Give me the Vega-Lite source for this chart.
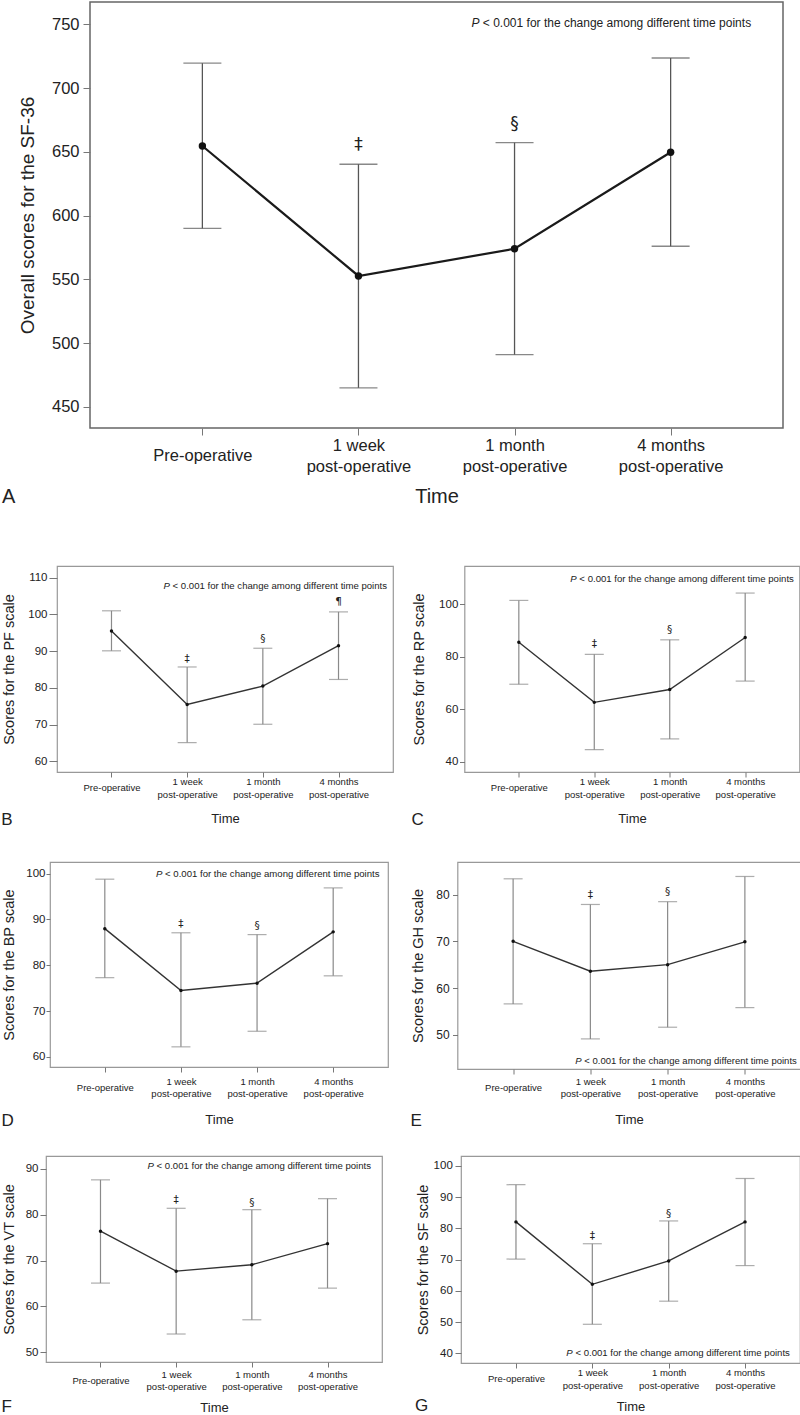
{
"$schema": "https://vega.github.io/schema/vega-lite/v6.json",
"background": "white",
"padding": {"left": 0, "top": 1, "right": 0, "bottom": 0},
"config": {
  "font": "Liberation Sans",
  "axis": {"labelFont": "Liberation Sans", "titleFont": "Liberation Sans", "labelColor": "#222", "titleColor": "#222", "titleFontWeight": "normal", "grid": false, "domain": false, "tickColor": "#777", "labelOverlap": false},
  "title": {"font": "Liberation Sans", "fontWeight": "normal", "color": "#222"},
  "text": {"font": "Liberation Sans", "color": "#222"}
},
"spacing": 57,
"vconcat": [
{
"bounds": "flush",
"spacing": 43,
"hconcat": [
{"width": 1, "height": 1, "view": {"stroke": null}, "data": {"values": [{"s": 0}]}, "mark": {"type": "point", "opacity": 0, "size": 0}, "encoding": {}},
{
  "width": 693, "height": 426,
  "view": {"stroke": "#666", "strokeWidth": 1.5},
  "title": {"text": "A", "orient": "bottom", "anchor": "start", "frame": "bounds", "fontSize": 20, "offset": -20, "dx": -16},
  "data": {"values": [
    {"time": "Pre-operative", "mean": 654.6, "lo": 590, "hi": 719.5, "sym": "", "symY": null},
    {"time": "1 week\npost-operative", "mean": 552.7, "lo": 465, "hi": 640.3, "sym": "‡", "symY": 655},
    {"time": "1 month\npost-operative", "mean": 574, "lo": 491, "hi": 657.2, "sym": "§", "symY": 672},
    {"time": "4 months\npost-operative", "mean": 649.7, "lo": 576, "hi": 723.6, "sym": "", "symY": null}
  ]},
  "encoding": {"x": {"field": "time", "type": "ordinal", "sort": ["Pre-operative", "1 week\npost-operative", "1 month\npost-operative", "4 months\npost-operative"], "scale": {"type": "point", "padding": 0.72},
    "axis": {"title": "Time", "labelExpr": "split(datum.label, '\\n')", "labelAngle": 0, "labelBaseline": "middle", "labelLineHeight": 21, "labelFontSize": 16.5,
      "labelPadding": {"condition": {"test": "datum.value == 'Pre-operative'", "value": 20.5}, "value": 10}, "tickSize": 7, "titleFontSize": 20, "titlePadding": 12}}},
  "layer": [
    {"mark": {"type": "rule", "color": "#555", "strokeWidth": 1.3},
     "encoding": {"y": {"field": "lo", "type": "quantitative", "scale": {"domain": [433.5, 767.5], "nice": false, "zero": false},
        "axis": {"title": "Overall scores for the SF-36", "values": [450, 500, 550, 600, 650, 700, 750], "labelOverlap": false, "tickSize": 7, "labelPadding": 4, "labelFontSize": 16.5, "titleFontSize": 19, "titlePadding": 14, "minExtent": 39, "maxExtent": 39}},
      "y2": {"field": "hi"}}},
    {"mark": {"type": "tick", "color": "#555", "size": 38, "thickness": 1.3},
     "encoding": {"y": {"field": "lo", "type": "quantitative", "scale": {"domain": [433.5, 767.5], "nice": false, "zero": false}}}},
    {"mark": {"type": "tick", "color": "#555", "size": 38, "thickness": 1.3},
     "encoding": {"y": {"field": "hi", "type": "quantitative", "scale": {"domain": [433.5, 767.5], "nice": false, "zero": false}}}},
    {"mark": {"type": "line", "color": "#1a1a1a", "strokeWidth": 2.2},
     "encoding": {"y": {"field": "mean", "type": "quantitative", "scale": {"domain": [433.5, 767.5], "nice": false, "zero": false}}}},
    {"mark": {"type": "point", "filled": true, "color": "#111", "size": 55, "opacity": 1},
     "encoding": {"y": {"field": "mean", "type": "quantitative", "scale": {"domain": [433.5, 767.5], "nice": false, "zero": false}}}},
    {"transform": [{"filter": "datum.sym != ''"}],
     "mark": {"type": "text", "fontSize": 17, "baseline": "middle", "align": "center", "font": "DejaVu Sans"},
     "encoding": {"y": {"field": "symY", "type": "quantitative", "scale": {"domain": [433.5, 767.5], "nice": false, "zero": false}}, "text": {"field": "sym"}}},
    {"data": {"values": [{"p": "P", "note": "< 0.001 for the change among different time points", "noteY": 751}]},
     "layer": [
       {"mark": {"type": "text", "fontSize": 12, "fontStyle": "italic", "align": "left", "baseline": "middle", "dx": -43},
        "encoding": {"x": {"datum": "1 month\npost-operative"}, "y": {"field": "noteY", "type": "quantitative", "scale": {"domain": [433.5, 767.5], "nice": false, "zero": false}}, "text": {"field": "p"}}},
       {"mark": {"type": "text", "fontSize": 12, "align": "left", "baseline": "middle", "dx": -31.7},
        "encoding": {"x": {"datum": "1 month\npost-operative"}, "y": {"field": "noteY", "type": "quantitative", "scale": {"domain": [433.5, 767.5], "nice": false, "zero": false}}, "text": {"field": "note"}}}
     ]}
  ]
}
]
},
{
"spacing": 32,
"vconcat": [
{
"bounds": "flush",
"spacing": 10,
"hconcat": [
{"width": 1, "height": 1, "view": {"stroke": null}, "data": {"values": [{"s": 0}]}, "mark": {"type": "point", "opacity": 0, "size": 0}, "encoding": {}},
{
"spacing": 16.5,
"hconcat": [
{
  "width": 336, "height": 206,
  "view": {"stroke": "#999", "strokeWidth": 1.2},
  "title": {"text": "B", "orient": "bottom", "anchor": "start", "frame": "bounds", "fontSize": 17, "offset": -14},
  "data": {"values": [
    {"time": "Pre-operative", "mean": 95.5, "lo": 90.1, "hi": 101.0, "sym": "", "symY": null},
    {"time": "1 week\npost-operative", "mean": 75.5, "lo": 65.1, "hi": 85.7, "sym": "‡", "symY": 88.0},
    {"time": "1 month\npost-operative", "mean": 80.5, "lo": 70.1, "hi": 90.8, "sym": "§", "symY": 93.4},
    {"time": "4 months\npost-operative", "mean": 91.5, "lo": 82.3, "hi": 100.7, "sym": "¶", "symY": 103.3}
  ]},
  "encoding": {"x": {"field": "time", "type": "ordinal", "sort": ["Pre-operative", "1 week\npost-operative", "1 month\npost-operative", "4 months\npost-operative"], "scale": {"type": "point", "padding": 0.72},
    "axis": {"title": "Time", "labelExpr": "split(datum.label, '\\n')", "labelAngle": 0, "labelBaseline": "middle", "labelLineHeight": 12.5, "labelFontSize": 9.5,
      "labelPadding": {"condition": {"test": "datum.value == 'Pre-operative'", "value": 10.75}, "value": 4.5}, "tickSize": 5, "titleFontSize": 13, "titlePadding": 14}}},
  "layer": [
    {"mark": {"type": "rule", "color": "#8a8a8a", "strokeWidth": 1.2},
     "encoding": {"y": {"field": "lo", "type": "quantitative", "scale": {"domain": [57.1, 113.2], "nice": false, "zero": false},
        "axis": {"title": "Scores for the PF scale", "values": [60, 70, 80, 90, 100, 110], "labelOverlap": false, "tickSize": 8, "labelPadding": 2, "labelFontSize": 11.5, "titleFontSize": 14.5, "titlePadding": 12.7, "minExtent": 28, "maxExtent": 28}},
      "y2": {"field": "hi"}}},
    {"mark": {"type": "tick", "color": "#8a8a8a", "size": 19, "thickness": 1.2},
     "encoding": {"y": {"field": "lo", "type": "quantitative", "scale": {"domain": [57.1, 113.2], "nice": false, "zero": false}}}},
    {"mark": {"type": "tick", "color": "#8a8a8a", "size": 19, "thickness": 1.2},
     "encoding": {"y": {"field": "hi", "type": "quantitative", "scale": {"domain": [57.1, 113.2], "nice": false, "zero": false}}}},
    {"mark": {"type": "line", "color": "#333", "strokeWidth": 1.4},
     "encoding": {"y": {"field": "mean", "type": "quantitative", "scale": {"domain": [57.1, 113.2], "nice": false, "zero": false}}}},
    {"mark": {"type": "point", "filled": true, "color": "#111", "size": 12, "opacity": 1},
     "encoding": {"y": {"field": "mean", "type": "quantitative", "scale": {"domain": [57.1, 113.2], "nice": false, "zero": false}}}},
    {"transform": [{"filter": "datum.sym != ''"}],
     "mark": {"type": "text", "fontSize": 10.5, "baseline": "middle", "align": "center", "font": "DejaVu Sans"},
     "encoding": {"y": {"field": "symY", "type": "quantitative", "scale": {"domain": [57.1, 113.2], "nice": false, "zero": false}}, "text": {"field": "sym"}}},
    {"data": {"values": [{"p": "P", "note": "< 0.001 for the change among different time points", "noteY": 107.8}]},
     "layer": [
       {"mark": {"type": "text", "fontSize": 9.6, "fontStyle": "italic", "align": "left", "baseline": "middle", "dx": -23.7},
        "encoding": {"x": {"datum": "1 week\npost-operative"}, "y": {"field": "noteY", "type": "quantitative", "scale": {"domain": [57.1, 113.2], "nice": false, "zero": false}}, "text": {"field": "p"}}},
       {"mark": {"type": "text", "fontSize": 9.6, "align": "left", "baseline": "middle", "dx": -14.6},
        "encoding": {"x": {"datum": "1 week\npost-operative"}, "y": {"field": "noteY", "type": "quantitative", "scale": {"domain": [57.1, 113.2], "nice": false, "zero": false}}, "text": {"field": "note"}}}
     ]}
  ]
},
{
  "width": 335, "height": 206,
  "view": {"stroke": "#999", "strokeWidth": 1.2},
  "title": {"text": "C", "orient": "bottom", "anchor": "start", "frame": "bounds", "fontSize": 17, "offset": -14},
  "data": {"values": [
    {"time": "Pre-operative", "mean": 85.5, "lo": 69.5, "hi": 101.4, "sym": "", "symY": null},
    {"time": "1 week\npost-operative", "mean": 62.6, "lo": 44.6, "hi": 80.9, "sym": "‡", "symY": 84.9},
    {"time": "1 month\npost-operative", "mean": 67.5, "lo": 48.7, "hi": 86.4, "sym": "§", "symY": 90.3},
    {"time": "4 months\npost-operative", "mean": 87.3, "lo": 70.7, "hi": 104.2, "sym": "", "symY": null}
  ]},
  "encoding": {"x": {"field": "time", "type": "ordinal", "sort": ["Pre-operative", "1 week\npost-operative", "1 month\npost-operative", "4 months\npost-operative"], "scale": {"type": "point", "padding": 0.72},
    "axis": {"title": "Time", "labelExpr": "split(datum.label, '\\n')", "labelAngle": 0, "labelBaseline": "middle", "labelLineHeight": 12.5, "labelFontSize": 9.5,
      "labelPadding": {"condition": {"test": "datum.value == 'Pre-operative'", "value": 10.75}, "value": 4.5}, "tickSize": 5, "titleFontSize": 13, "titlePadding": 14}}},
  "layer": [
    {"mark": {"type": "rule", "color": "#8a8a8a", "strokeWidth": 1.2},
     "encoding": {"y": {"field": "lo", "type": "quantitative", "scale": {"domain": [36.1, 114.5], "nice": false, "zero": false},
        "axis": {"title": "Scores for the RP scale", "values": [40, 60, 80, 100], "labelOverlap": false, "tickSize": 5, "labelPadding": 1.7, "labelFontSize": 11.5, "titleFontSize": 14.5, "titlePadding": 13.3, "minExtent": 24.7, "maxExtent": 24.7}},
      "y2": {"field": "hi"}}},
    {"mark": {"type": "tick", "color": "#8a8a8a", "size": 19, "thickness": 1.2},
     "encoding": {"y": {"field": "lo", "type": "quantitative", "scale": {"domain": [36.1, 114.5], "nice": false, "zero": false}}}},
    {"mark": {"type": "tick", "color": "#8a8a8a", "size": 19, "thickness": 1.2},
     "encoding": {"y": {"field": "hi", "type": "quantitative", "scale": {"domain": [36.1, 114.5], "nice": false, "zero": false}}}},
    {"mark": {"type": "line", "color": "#333", "strokeWidth": 1.4},
     "encoding": {"y": {"field": "mean", "type": "quantitative", "scale": {"domain": [36.1, 114.5], "nice": false, "zero": false}}}},
    {"mark": {"type": "point", "filled": true, "color": "#111", "size": 12, "opacity": 1},
     "encoding": {"y": {"field": "mean", "type": "quantitative", "scale": {"domain": [36.1, 114.5], "nice": false, "zero": false}}}},
    {"transform": [{"filter": "datum.sym != ''"}],
     "mark": {"type": "text", "fontSize": 10.5, "baseline": "middle", "align": "center", "font": "DejaVu Sans"},
     "encoding": {"y": {"field": "symY", "type": "quantitative", "scale": {"domain": [36.1, 114.5], "nice": false, "zero": false}}, "text": {"field": "sym"}}},
    {"data": {"values": [{"p": "P", "note": "< 0.001 for the change among different time points", "noteY": 109.4}]},
     "layer": [
       {"mark": {"type": "text", "fontSize": 9.6, "fontStyle": "italic", "align": "left", "baseline": "middle", "dx": -24},
        "encoding": {"x": {"datum": "1 week\npost-operative"}, "y": {"field": "noteY", "type": "quantitative", "scale": {"domain": [36.1, 114.5], "nice": false, "zero": false}}, "text": {"field": "p"}}},
       {"mark": {"type": "text", "fontSize": 9.6, "align": "left", "baseline": "middle", "dx": -14.9},
        "encoding": {"x": {"datum": "1 week\npost-operative"}, "y": {"field": "noteY", "type": "quantitative", "scale": {"domain": [36.1, 114.5], "nice": false, "zero": false}}, "text": {"field": "note"}}}
     ]}
  ]
}
]
}
]
},
{
"spacing": 25,
"vconcat": [
{
"bounds": "flush",
"spacing": 3,
"hconcat": [
{"width": 1, "height": 1, "view": {"stroke": null}, "data": {"values": [{"s": 0}]}, "mark": {"type": "point", "opacity": 0, "size": 0}, "encoding": {}},
{
"spacing": 20.5,
"hconcat": [
{
  "width": 338, "height": 205,
  "view": {"stroke": "#999", "strokeWidth": 1.2},
  "title": {"text": "D", "orient": "bottom", "anchor": "start", "frame": "bounds", "fontSize": 17, "offset": -14},
  "data": {"values": [
    {"time": "Pre-operative", "mean": 88.0, "lo": 77.3, "hi": 98.8, "sym": "", "symY": null},
    {"time": "1 week\npost-operative", "mean": 74.5, "lo": 62.2, "hi": 87.1, "sym": "‡", "symY": 89.1},
    {"time": "1 month\npost-operative", "mean": 76.1, "lo": 65.6, "hi": 86.7, "sym": "§", "symY": 88.6},
    {"time": "4 months\npost-operative", "mean": 87.3, "lo": 77.7, "hi": 96.9, "sym": "", "symY": null}
  ]},
  "encoding": {"x": {"field": "time", "type": "ordinal", "sort": ["Pre-operative", "1 week\npost-operative", "1 month\npost-operative", "4 months\npost-operative"], "scale": {"type": "point", "padding": 0.72},
    "axis": {"title": "Time", "labelExpr": "split(datum.label, '\\n')", "labelAngle": 0, "labelBaseline": "middle", "labelLineHeight": 12.5, "labelFontSize": 9.5,
      "labelPadding": {"condition": {"test": "datum.value == 'Pre-operative'", "value": 15.25}, "value": 9}, "tickSize": 5, "titleFontSize": 13, "titlePadding": 15.5}}},
  "layer": [
    {"mark": {"type": "rule", "color": "#8a8a8a", "strokeWidth": 1.2},
     "encoding": {"y": {"field": "lo", "type": "quantitative", "scale": {"domain": [57.8, 102.55], "nice": false, "zero": false},
        "axis": {"title": "Scores for the BP scale", "values": [60, 70, 80, 90, 100], "labelOverlap": false, "tickSize": 4, "labelPadding": 1, "labelFontSize": 11.5, "titleFontSize": 14.5, "titlePadding": 10.5, "minExtent": 23, "maxExtent": 23}},
      "y2": {"field": "hi"}}},
    {"mark": {"type": "tick", "color": "#8a8a8a", "size": 19, "thickness": 1.2},
     "encoding": {"y": {"field": "lo", "type": "quantitative", "scale": {"domain": [57.8, 102.55], "nice": false, "zero": false}}}},
    {"mark": {"type": "tick", "color": "#8a8a8a", "size": 19, "thickness": 1.2},
     "encoding": {"y": {"field": "hi", "type": "quantitative", "scale": {"domain": [57.8, 102.55], "nice": false, "zero": false}}}},
    {"mark": {"type": "line", "color": "#333", "strokeWidth": 1.4},
     "encoding": {"y": {"field": "mean", "type": "quantitative", "scale": {"domain": [57.8, 102.55], "nice": false, "zero": false}}}},
    {"mark": {"type": "point", "filled": true, "color": "#111", "size": 12, "opacity": 1},
     "encoding": {"y": {"field": "mean", "type": "quantitative", "scale": {"domain": [57.8, 102.55], "nice": false, "zero": false}}}},
    {"transform": [{"filter": "datum.sym != ''"}],
     "mark": {"type": "text", "fontSize": 10.5, "baseline": "middle", "align": "center", "font": "DejaVu Sans"},
     "encoding": {"y": {"field": "symY", "type": "quantitative", "scale": {"domain": [57.8, 102.55], "nice": false, "zero": false}}, "text": {"field": "sym"}}},
    {"data": {"values": [{"p": "P", "note": "< 0.001 for the change among different time points", "noteY": 100}]},
     "layer": [
       {"mark": {"type": "text", "fontSize": 9.6, "fontStyle": "italic", "align": "left", "baseline": "middle", "dx": -25},
        "encoding": {"x": {"datum": "1 week\npost-operative"}, "y": {"field": "noteY", "type": "quantitative", "scale": {"domain": [57.8, 102.55], "nice": false, "zero": false}}, "text": {"field": "p"}}},
       {"mark": {"type": "text", "fontSize": 9.6, "align": "left", "baseline": "middle", "dx": -15.9},
        "encoding": {"x": {"datum": "1 week\npost-operative"}, "y": {"field": "noteY", "type": "quantitative", "scale": {"domain": [57.8, 102.55], "nice": false, "zero": false}}, "text": {"field": "note"}}}
     ]}
  ]
},
{
  "width": 343, "height": 207,
  "view": {"stroke": "#999", "strokeWidth": 1.2},
  "title": {"text": "E", "orient": "bottom", "anchor": "start", "frame": "bounds", "fontSize": 17, "offset": -14},
  "data": {"values": [
    {"time": "Pre-operative", "mean": 70.0, "lo": 56.6, "hi": 83.4, "sym": "", "symY": null},
    {"time": "1 week\npost-operative", "mean": 63.6, "lo": 49.1, "hi": 77.9, "sym": "‡", "symY": 80.0},
    {"time": "1 month\npost-operative", "mean": 65.0, "lo": 51.6, "hi": 78.5, "sym": "§", "symY": 80.6},
    {"time": "4 months\npost-operative", "mean": 69.9, "lo": 55.8, "hi": 83.9, "sym": "", "symY": null}
  ]},
  "encoding": {"x": {"field": "time", "type": "ordinal", "sort": ["Pre-operative", "1 week\npost-operative", "1 month\npost-operative", "4 months\npost-operative"], "scale": {"type": "point", "padding": 0.72},
    "axis": {"title": "Time", "labelExpr": "split(datum.label, '\\n')", "labelAngle": 0, "labelBaseline": "middle", "labelLineHeight": 12.5, "labelFontSize": 9.5,
      "labelPadding": {"condition": {"test": "datum.value == 'Pre-operative'", "value": 13.55}, "value": 7.3}, "tickSize": 5, "titleFontSize": 13, "titlePadding": 15.5}}},
  "layer": [
    {"mark": {"type": "rule", "color": "#8a8a8a", "strokeWidth": 1.2},
     "encoding": {"y": {"field": "lo", "type": "quantitative", "scale": {"domain": [42.65, 87.0], "nice": false, "zero": false},
        "axis": {"title": "Scores for the GH scale", "values": [50, 60, 70, 80], "labelOverlap": false, "tickSize": 5, "labelPadding": 3.3, "labelFontSize": 12, "titleFontSize": 14.5, "titlePadding": 8.7, "minExtent": 23.3, "maxExtent": 23.3}},
      "y2": {"field": "hi"}}},
    {"mark": {"type": "tick", "color": "#8a8a8a", "size": 19, "thickness": 1.2},
     "encoding": {"y": {"field": "lo", "type": "quantitative", "scale": {"domain": [42.65, 87.0], "nice": false, "zero": false}}}},
    {"mark": {"type": "tick", "color": "#8a8a8a", "size": 19, "thickness": 1.2},
     "encoding": {"y": {"field": "hi", "type": "quantitative", "scale": {"domain": [42.65, 87.0], "nice": false, "zero": false}}}},
    {"mark": {"type": "line", "color": "#333", "strokeWidth": 1.4},
     "encoding": {"y": {"field": "mean", "type": "quantitative", "scale": {"domain": [42.65, 87.0], "nice": false, "zero": false}}}},
    {"mark": {"type": "point", "filled": true, "color": "#111", "size": 12, "opacity": 1},
     "encoding": {"y": {"field": "mean", "type": "quantitative", "scale": {"domain": [42.65, 87.0], "nice": false, "zero": false}}}},
    {"transform": [{"filter": "datum.sym != ''"}],
     "mark": {"type": "text", "fontSize": 10.5, "baseline": "middle", "align": "center", "font": "DejaVu Sans"},
     "encoding": {"y": {"field": "symY", "type": "quantitative", "scale": {"domain": [42.65, 87.0], "nice": false, "zero": false}}, "text": {"field": "sym"}}},
    {"data": {"values": [{"p": "P", "note": "< 0.001 for the change among different time points", "noteY": 44.4}]},
     "layer": [
       {"mark": {"type": "text", "fontSize": 9.5, "fontStyle": "italic", "align": "left", "baseline": "middle", "dx": -15},
        "encoding": {"x": {"datum": "1 week\npost-operative"}, "y": {"field": "noteY", "type": "quantitative", "scale": {"domain": [42.65, 87.0], "nice": false, "zero": false}}, "text": {"field": "p"}}},
       {"mark": {"type": "text", "fontSize": 9.5, "align": "left", "baseline": "middle", "dx": -6},
        "encoding": {"x": {"datum": "1 week\npost-operative"}, "y": {"field": "noteY", "type": "quantitative", "scale": {"domain": [42.65, 87.0], "nice": false, "zero": false}}, "text": {"field": "note"}}}
     ]}
  ]
}
]
}
]
},
{
"spacing": 31,
"hconcat": [
{
  "width": 336, "height": 206,
  "view": {"stroke": "#999", "strokeWidth": 1.2},
  "title": {"text": "F", "orient": "bottom", "anchor": "start", "frame": "bounds", "fontSize": 17, "offset": -16},
  "data": {"values": [
    {"time": "Pre-operative", "mean": 76.4, "lo": 65.1, "hi": 87.6, "sym": "", "symY": null},
    {"time": "1 week\npost-operative", "mean": 67.7, "lo": 54.0, "hi": 81.4, "sym": "‡", "symY": 83.3},
    {"time": "1 month\npost-operative", "mean": 69.1, "lo": 57.1, "hi": 81.1, "sym": "§", "symY": 82.6},
    {"time": "4 months\npost-operative", "mean": 73.7, "lo": 64.0, "hi": 83.5, "sym": "", "symY": null}
  ]},
  "encoding": {"x": {"field": "time", "type": "ordinal", "sort": ["Pre-operative", "1 week\npost-operative", "1 month\npost-operative", "4 months\npost-operative"], "scale": {"type": "point", "padding": 0.72},
    "axis": {"title": "Time", "labelExpr": "split(datum.label, '\\n')", "labelAngle": 0, "labelBaseline": "middle", "labelLineHeight": 12.5, "labelFontSize": 9.5,
      "labelPadding": {"condition": {"test": "datum.value == 'Pre-operative'", "value": 13.55}, "value": 7.3}, "tickSize": 5, "titleFontSize": 13, "titlePadding": 10.5}}},
  "layer": [
    {"mark": {"type": "rule", "color": "#8a8a8a", "strokeWidth": 1.2},
     "encoding": {"y": {"field": "lo", "type": "quantitative", "scale": {"domain": [47.9, 92.8], "nice": false, "zero": false},
        "axis": {"title": "Scores for the VT scale", "values": [50, 60, 70, 80, 90], "labelOverlap": false, "tickSize": 6, "labelPadding": 2, "labelFontSize": 11.5, "titleFontSize": 14.5, "titlePadding": 8.5, "minExtent": 21, "maxExtent": 21}},
      "y2": {"field": "hi"}}},
    {"mark": {"type": "tick", "color": "#8a8a8a", "size": 19, "thickness": 1.2},
     "encoding": {"y": {"field": "lo", "type": "quantitative", "scale": {"domain": [47.9, 92.8], "nice": false, "zero": false}}}},
    {"mark": {"type": "tick", "color": "#8a8a8a", "size": 19, "thickness": 1.2},
     "encoding": {"y": {"field": "hi", "type": "quantitative", "scale": {"domain": [47.9, 92.8], "nice": false, "zero": false}}}},
    {"mark": {"type": "line", "color": "#333", "strokeWidth": 1.4},
     "encoding": {"y": {"field": "mean", "type": "quantitative", "scale": {"domain": [47.9, 92.8], "nice": false, "zero": false}}}},
    {"mark": {"type": "point", "filled": true, "color": "#111", "size": 12, "opacity": 1},
     "encoding": {"y": {"field": "mean", "type": "quantitative", "scale": {"domain": [47.9, 92.8], "nice": false, "zero": false}}}},
    {"transform": [{"filter": "datum.sym != ''"}],
     "mark": {"type": "text", "fontSize": 10.5, "baseline": "middle", "align": "center", "font": "DejaVu Sans"},
     "encoding": {"y": {"field": "symY", "type": "quantitative", "scale": {"domain": [47.9, 92.8], "nice": false, "zero": false}}, "text": {"field": "sym"}}},
    {"data": {"values": [{"p": "P", "note": "< 0.001 for the change among different time points", "noteY": 90.6}]},
     "layer": [
       {"mark": {"type": "text", "fontSize": 9.6, "fontStyle": "italic", "align": "left", "baseline": "middle", "dx": -28.7},
        "encoding": {"x": {"datum": "1 week\npost-operative"}, "y": {"field": "noteY", "type": "quantitative", "scale": {"domain": [47.9, 92.8], "nice": false, "zero": false}}, "text": {"field": "p"}}},
       {"mark": {"type": "text", "fontSize": 9.6, "align": "left", "baseline": "middle", "dx": -19.6},
        "encoding": {"x": {"datum": "1 week\npost-operative"}, "y": {"field": "noteY", "type": "quantitative", "scale": {"domain": [47.9, 92.8], "nice": false, "zero": false}}, "text": {"field": "note"}}}
     ]}
  ]
},
{
  "width": 339, "height": 207,
  "view": {"stroke": "#999", "strokeWidth": 1.2},
  "title": {"text": "G", "orient": "bottom", "anchor": "start", "frame": "bounds", "fontSize": 17, "offset": -16},
  "data": {"values": [
    {"time": "Pre-operative", "mean": 82.1, "lo": 70.2, "hi": 94.0, "sym": "", "symY": null},
    {"time": "1 week\npost-operative", "mean": 62.1, "lo": 49.3, "hi": 75.1, "sym": "‡", "symY": 77.6},
    {"time": "1 month\npost-operative", "mean": 69.6, "lo": 56.7, "hi": 82.4, "sym": "§", "symY": 84.6},
    {"time": "4 months\npost-operative", "mean": 82.1, "lo": 68.1, "hi": 96.0, "sym": "", "symY": null}
  ]},
  "encoding": {"x": {"field": "time", "type": "ordinal", "sort": ["Pre-operative", "1 week\npost-operative", "1 month\npost-operative", "4 months\npost-operative"], "scale": {"type": "point", "padding": 0.72},
    "axis": {"title": "Time", "labelExpr": "split(datum.label, '\\n')", "labelAngle": 0, "labelBaseline": "middle", "labelLineHeight": 12.5, "labelFontSize": 9.5,
      "labelPadding": {"condition": {"test": "datum.value == 'Pre-operative'", "value": 10.95}, "value": 4.7}, "tickSize": 5, "titleFontSize": 13, "titlePadding": 11}}},
  "layer": [
    {"mark": {"type": "rule", "color": "#8a8a8a", "strokeWidth": 1.2},
     "encoding": {"y": {"field": "lo", "type": "quantitative", "scale": {"domain": [36.9, 103.2], "nice": false, "zero": false},
        "axis": {"title": "Scores for the SF scale", "values": [40, 50, 60, 70, 80, 90, 100], "tickCount": 7, "labelOverlap": false, "tickSize": 6, "labelPadding": 2.7, "labelFontSize": 11.5, "titleFontSize": 14.5, "titlePadding": 4.7, "minExtent": 26.3, "maxExtent": 26.3}},
      "y2": {"field": "hi"}}},
    {"mark": {"type": "tick", "color": "#8a8a8a", "size": 19, "thickness": 1.2},
     "encoding": {"y": {"field": "lo", "type": "quantitative", "scale": {"domain": [36.9, 103.2], "nice": false, "zero": false},
        "axis": {"title": "Scores for the SF scale", "values": [40, 50, 60, 70, 80, 90, 100], "tickCount": 7, "labelOverlap": false, "tickSize": 6, "labelPadding": 2.7, "labelFontSize": 11.5, "titleFontSize": 14.5, "titlePadding": 4.7, "minExtent": 26.3, "maxExtent": 26.3}}}},
    {"mark": {"type": "tick", "color": "#8a8a8a", "size": 19, "thickness": 1.2},
     "encoding": {"y": {"field": "hi", "type": "quantitative", "scale": {"domain": [36.9, 103.2], "nice": false, "zero": false},
        "axis": {"title": "Scores for the SF scale", "values": [40, 50, 60, 70, 80, 90, 100], "tickCount": 7, "labelOverlap": false, "tickSize": 6, "labelPadding": 2.7, "labelFontSize": 11.5, "titleFontSize": 14.5, "titlePadding": 4.7, "minExtent": 26.3, "maxExtent": 26.3}}}},
    {"mark": {"type": "line", "color": "#333", "strokeWidth": 1.4},
     "encoding": {"y": {"field": "mean", "type": "quantitative", "scale": {"domain": [36.9, 103.2], "nice": false, "zero": false},
        "axis": {"title": "Scores for the SF scale", "values": [40, 50, 60, 70, 80, 90, 100], "tickCount": 7, "labelOverlap": false, "tickSize": 6, "labelPadding": 2.7, "labelFontSize": 11.5, "titleFontSize": 14.5, "titlePadding": 4.7, "minExtent": 26.3, "maxExtent": 26.3}}}},
    {"mark": {"type": "point", "filled": true, "color": "#111", "size": 12, "opacity": 1},
     "encoding": {"y": {"field": "mean", "type": "quantitative", "scale": {"domain": [36.9, 103.2], "nice": false, "zero": false},
        "axis": {"title": "Scores for the SF scale", "values": [40, 50, 60, 70, 80, 90, 100], "tickCount": 7, "labelOverlap": false, "tickSize": 6, "labelPadding": 2.7, "labelFontSize": 11.5, "titleFontSize": 14.5, "titlePadding": 4.7, "minExtent": 26.3, "maxExtent": 26.3}}}},
    {"transform": [{"filter": "datum.sym != ''"}],
     "mark": {"type": "text", "fontSize": 10.5, "baseline": "middle", "align": "center", "font": "DejaVu Sans"},
     "encoding": {"y": {"field": "symY", "type": "quantitative", "scale": {"domain": [36.9, 103.2], "nice": false, "zero": false},
        "axis": {"title": "Scores for the SF scale", "values": [40, 50, 60, 70, 80, 90, 100], "tickCount": 7, "labelOverlap": false, "tickSize": 6, "labelPadding": 2.7, "labelFontSize": 11.5, "titleFontSize": 14.5, "titlePadding": 4.7, "minExtent": 26.3, "maxExtent": 26.3}}, "text": {"field": "sym"}}},
    {"data": {"values": [{"p": "P", "note": "< 0.001 for the change among different time points", "noteY": 40.2}]},
     "layer": [
       {"mark": {"type": "text", "fontSize": 9.6, "fontStyle": "italic", "align": "left", "baseline": "middle", "dx": -26},
        "encoding": {"x": {"datum": "1 week\npost-operative"}, "y": {"field": "noteY", "type": "quantitative", "scale": {"domain": [36.9, 103.2], "nice": false, "zero": false},
        "axis": {"title": "Scores for the SF scale", "values": [40, 50, 60, 70, 80, 90, 100], "tickCount": 7, "labelOverlap": false, "tickSize": 6, "labelPadding": 2.7, "labelFontSize": 11.5, "titleFontSize": 14.5, "titlePadding": 4.7, "minExtent": 26.3, "maxExtent": 26.3}}, "text": {"field": "p"}}},
       {"mark": {"type": "text", "fontSize": 9.6, "align": "left", "baseline": "middle", "dx": -16.9},
        "encoding": {"x": {"datum": "1 week\npost-operative"}, "y": {"field": "noteY", "type": "quantitative", "scale": {"domain": [36.9, 103.2], "nice": false, "zero": false},
        "axis": {"title": "Scores for the SF scale", "values": [40, 50, 60, 70, 80, 90, 100], "tickCount": 7, "labelOverlap": false, "tickSize": 6, "labelPadding": 2.7, "labelFontSize": 11.5, "titleFontSize": 14.5, "titlePadding": 4.7, "minExtent": 26.3, "maxExtent": 26.3}}, "text": {"field": "note"}}}
     ]}
  ]
}
]
}
]
}
]
}
]
}
